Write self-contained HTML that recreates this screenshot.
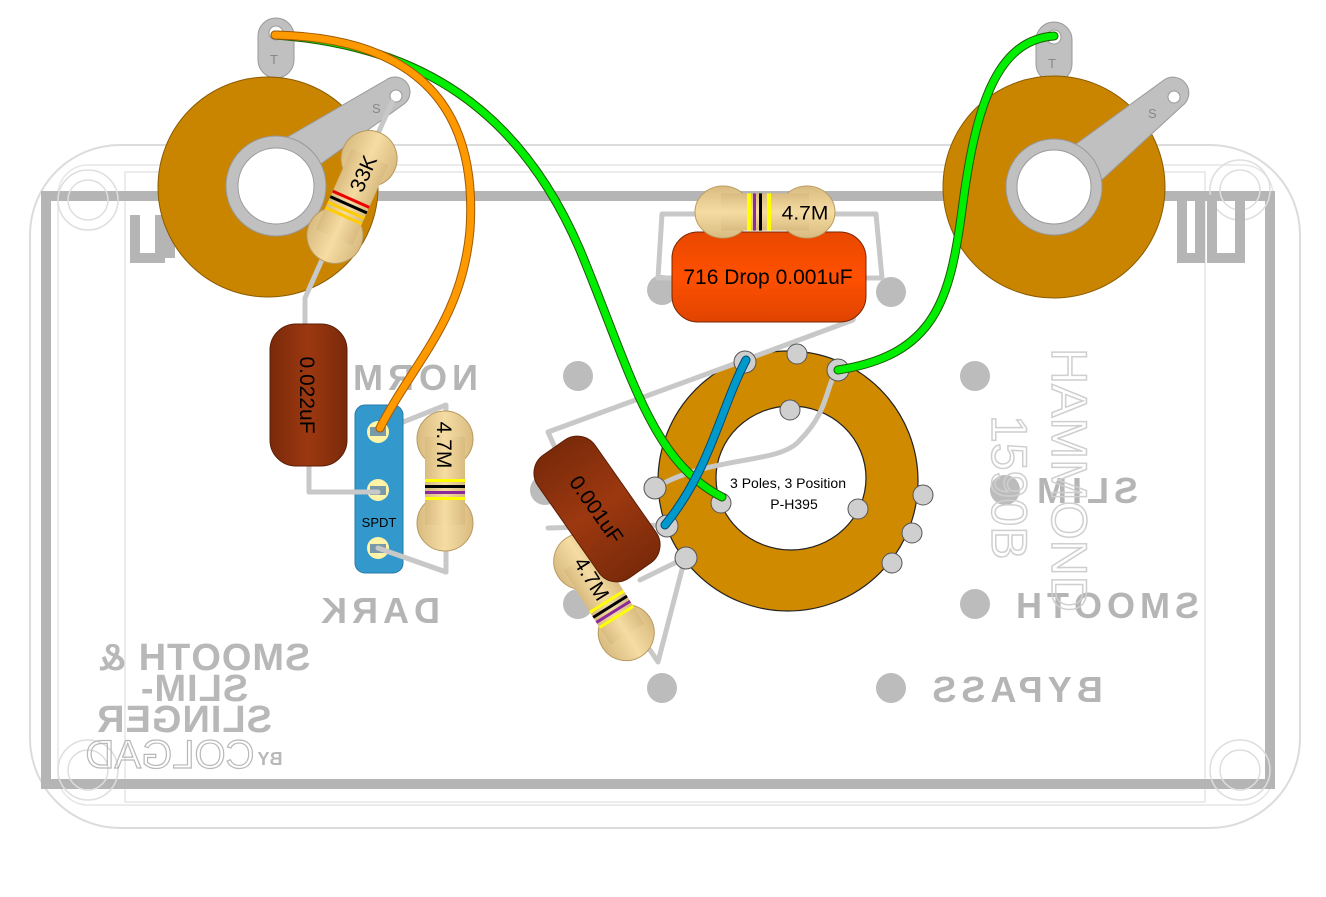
<!DOCTYPE html>
<html><head><meta charset="utf-8"><style>
html,body{margin:0;padding:0;background:#fff;}
svg{display:block;}
text{font-family:"Liberation Sans",sans-serif;}
</style></head><body>
<svg width="1326" height="897" viewBox="0 0 1326 897" xmlns="http://www.w3.org/2000/svg">
<defs>
<linearGradient id="tan" x1="0" y1="0" x2="0" y2="1">
<stop offset="0" stop-color="#d9bb80"/><stop offset="0.5" stop-color="#f5dca3"/><stop offset="1" stop-color="#d9bb80"/>
</linearGradient>
<linearGradient id="brn" x1="0" y1="0" x2="1" y2="0">
<stop offset="0" stop-color="#7a2a0a"/><stop offset="0.5" stop-color="#9c3810"/><stop offset="1" stop-color="#7a2a0a"/>
</linearGradient>
<linearGradient id="org" x1="0" y1="0" x2="0" y2="1">
<stop offset="0" stop-color="#e84800"/><stop offset="0.5" stop-color="#ff5000"/><stop offset="1" stop-color="#e04400"/>
</linearGradient>
<g id="resbody">
<circle cx="-42" cy="0" r="28" fill="url(#tan)" stroke="#b89a60" stroke-width="1"/>
<circle cx="42" cy="0" r="28" fill="url(#tan)" stroke="#b89a60" stroke-width="1"/>
<rect x="-44" y="-20" width="88" height="40" fill="url(#tan)"/>
</g>
</defs>

<!-- enclosure -->
<rect x="30" y="145" width="1270" height="683" rx="90" fill="none" stroke="#dcdcdc" stroke-width="2"/>
<rect x="58" y="165" width="1215" height="640" rx="30" fill="none" stroke="#e6e6e6" stroke-width="1.5"/>
<rect x="125" y="172" width="1080" height="630" fill="none" stroke="#e6e6e6" stroke-width="1.5"/>
<rect x="46" y="196" width="1224" height="588" fill="none" stroke="#b5b5b5" stroke-width="10"/>
<g fill="none" stroke="#dedede" stroke-width="1.5">
<circle cx="88" cy="200" r="30"/><circle cx="88" cy="200" r="20"/>
<circle cx="1240" cy="190" r="30"/><circle cx="1240" cy="190" r="20"/>
<circle cx="88" cy="770" r="30"/><circle cx="88" cy="770" r="20"/>
<circle cx="1240" cy="770" r="30"/><circle cx="1240" cy="770" r="20"/>
</g>
<!-- U shapes top -->
<path d="M135 215 V258 H160 V215 M170 215 V258" fill="none" stroke="#b5b5b5" stroke-width="10"/>
<path d="M1182 195 V258 H1200 V195 M1212 195 V258 H1240 V195" fill="none" stroke="#b5b5b5" stroke-width="10"/>

<!-- dots -->
<g fill="#bcbcbc">
<circle cx="662" cy="290" r="15"/><circle cx="891" cy="292" r="15"/>
<circle cx="578" cy="376" r="15"/><circle cx="975" cy="376" r="15"/>
<circle cx="545" cy="490" r="15"/><circle cx="1005" cy="490" r="15"/>
<circle cx="578" cy="604" r="15"/><circle cx="975" cy="604" r="15"/>
<circle cx="662" cy="688" r="15"/><circle cx="891" cy="688" r="15"/>
</g>

<!-- mirrored labels -->
<g fill="#b5b5b5" font-size="36" font-weight="bold" style="letter-spacing:5px">
<text transform="matrix(-1 0 0 1 826 0)" x="413" y="390" text-anchor="middle">NORM</text>
<text transform="matrix(-1 0 0 1 756 0)" x="378" y="623" text-anchor="middle">DARK</text>
<text transform="matrix(-1 0 0 1 2170 0)" x="1085" y="503" text-anchor="middle">SLIM</text>
<text transform="matrix(-1 0 0 1 2210 0)" x="1105" y="618" text-anchor="middle">SMOOTH</text>
<text transform="matrix(-1 0 0 1 2030 0)" x="1015" y="702" text-anchor="middle">BYPASS</text>
</g>
<g fill="none" stroke="#cfcfcf" stroke-width="1.5" font-size="50">
<text transform="translate(1052,348) rotate(90)" x="0" y="0">HAMMOND</text>
<text transform="translate(992,415) rotate(90)" x="0" y="0">1590B</text>
</g>
<g fill="#b8b8b8" font-family="Liberation Serif" font-weight="bold" font-size="38" style="letter-spacing:1px">
<text transform="matrix(-1 0 0 1 408 0)" x="204" y="670" text-anchor="middle">SMOOTH &amp;</text>
<text transform="matrix(-1 0 0 1 388 0)" x="194" y="701" text-anchor="middle">SLIM-</text>
<text transform="matrix(-1 0 0 1 368 0)" x="184" y="732" text-anchor="middle">SLINGER</text>
</g>
<g fill="none" stroke="#b8b8b8" stroke-width="1.2" font-family="Liberation Serif" font-size="40">
<text transform="matrix(-1 0 0 1 340 0)" x="170" y="768" text-anchor="middle">COLGAD</text>
</g>
<text transform="matrix(-1 0 0 1 540 0)" x="270" y="765" text-anchor="middle" fill="#b8b8b8" font-size="18" font-weight="bold">BY</text>

<!-- left jack -->
<rect x="258" y="18" width="36" height="60" rx="18" fill="#c0c0c0" stroke="#999" stroke-width="1"/>
<circle cx="276" cy="33" r="7" fill="#fff" stroke="#999"/>
<text x="270" y="64" font-size="13" fill="#888">T</text>
<circle cx="268" cy="187" r="110" fill="#c98400" stroke="#8a5c00" stroke-width="1"/>
<path d="M265 150 L386 80 A15 15 0 0 1 404 104 L290 186 Z" fill="#c0c0c0" stroke="#999"/>
<circle cx="396" cy="96" r="6" fill="#fff" stroke="#999"/>
<text x="372" y="113" font-size="13" fill="#888">S</text>
<circle cx="276" cy="186" r="50" fill="#c0c0c0" stroke="#999"/>
<circle cx="276" cy="186" r="38" fill="#fff" stroke="#999"/>

<!-- right jack -->
<rect x="1036" y="22" width="36" height="60" rx="18" fill="#c0c0c0" stroke="#999"/>
<circle cx="1054" cy="37" r="7" fill="#fff" stroke="#999"/>
<text x="1048" y="68" font-size="13" fill="#888">T</text>
<circle cx="1054" cy="187" r="111" fill="#c98400" stroke="#8a5c00" stroke-width="1"/>
<path d="M1054 160 L1164 80 A15 15 0 0 1 1182 106 L1080 200 Z" fill="#c0c0c0" stroke="#999"/>
<circle cx="1174" cy="97" r="6" fill="#fff" stroke="#999"/>
<text x="1148" y="118" font-size="13" fill="#888">S</text>
<circle cx="1054" cy="187" r="48" fill="#c0c0c0" stroke="#999"/>
<circle cx="1054" cy="187" r="37" fill="#fff" stroke="#999"/>

<!-- rotary switch -->
<circle cx="788" cy="481" r="130" fill="#d08a00" stroke="#222" stroke-width="1.2"/>
<ellipse cx="791" cy="478" rx="75" ry="72" fill="#fff" stroke="#222" stroke-width="1.2"/>
<text x="788" y="488" font-size="14" text-anchor="middle">3 Poles, 3 Position</text>
<text x="794" y="509" font-size="14" text-anchor="middle">P-H395</text>

<!-- gray leads -->
<g fill="none" stroke="#c8c8c8" stroke-width="5" stroke-linecap="round" stroke-linejoin="round">
<path d="M392 102 L305 298 V340"/>
<path d="M309 455 V492 H378"/>
<path d="M378 432 L446 405 V430"/>
<path d="M378 548 L446 572 V530"/>
<path d="M700 214 L662 214 L658 278 L676 278"/>
<path d="M830 214 L876 214 L882 278 L862 278 L853 320 L745 360"/>
<path d="M745 360 L548 432 L565 470"/>
<path d="M655 488 C710 455 780 465 800 440 C830 410 825 385 838 370"/>
<path d="M667 525 L548 528"/>
<path d="M640 580 L685 558 L658 662 L650 650"/>
</g>
<!-- switch lugs -->
<g fill="#cfcfcf" stroke="#555" stroke-width="1">
<circle cx="745" cy="362" r="11"/><circle cx="797" cy="354" r="10"/><circle cx="838" cy="370" r="11"/>
<circle cx="790" cy="410" r="10"/><circle cx="655" cy="488" r="11"/><circle cx="721" cy="503" r="10"/>
<circle cx="858" cy="509" r="10"/><circle cx="923" cy="495" r="10"/><circle cx="912" cy="533" r="10"/>
<circle cx="892" cy="563" r="10"/><circle cx="667" cy="526" r="11"/><circle cx="686" cy="558" r="11"/>
</g>

<!-- orange cap -->
<rect x="672" y="232" width="194" height="90" rx="26" fill="url(#org)" stroke="#7a2500" stroke-width="1"/>
<text x="768" y="284" font-size="21" text-anchor="middle">716 Drop 0.001uF</text>
<!-- top resistor -->
<g transform="translate(765,212) scale(1,0.93)">
<use href="#resbody"/>
<rect x="-18" y="-20" width="4" height="40" fill="#ff0"/>
<rect x="-12" y="-20" width="3" height="40" fill="#8b2a9a"/>
<rect x="-6" y="-20" width="3" height="40" fill="#000"/>
<rect x="2" y="-20" width="4" height="40" fill="#ff0"/>
<text x="40" y="8" font-size="21" text-anchor="middle">4.7M</text>
</g>

<!-- left cap -->
<rect x="270" y="324" width="77" height="142" rx="26" fill="url(#brn)" stroke="#5a1e05"/>
<text transform="translate(300,395) rotate(90)" font-size="21" text-anchor="middle">0.022uF</text>

<!-- SPDT -->
<rect x="355" y="405" width="48" height="168" rx="10" fill="#3399cc" stroke="#2a7aa8"/>
<g fill="#fff3a8"><circle cx="378" cy="432" r="11"/><circle cx="378" cy="490" r="11"/><circle cx="378" cy="548" r="11"/></g>
<g fill="#7799aa"><rect x="370" y="427" width="16" height="9"/><rect x="370" y="486" width="16" height="9"/><rect x="370" y="544" width="16" height="9"/></g>
<text x="379" y="527" font-size="13" text-anchor="middle">SPDT</text>
<path d="M309 492 H378 M378 548 L446 572" stroke="#c8c8c8" stroke-width="5" stroke-linecap="round" fill="none"/>

<!-- vertical 4.7M -->
<g transform="translate(445,481) rotate(90)">
<use href="#resbody"/>
<rect x="-2" y="-20" width="3" height="40" fill="#ff0"/>
<rect x="4" y="-20" width="3" height="40" fill="#000"/>
<rect x="10" y="-20" width="3" height="40" fill="#8b2a9a"/>
<rect x="16" y="-20" width="3" height="40" fill="#ff0"/>
<text x="-36" y="8" font-size="21" text-anchor="middle">4.7M</text>
</g>

<!-- 33K -->
<g transform="translate(352,197) rotate(-66)">
<use href="#resbody"/>
<rect x="-4" y="-20" width="3" height="40" fill="#e00"/>
<rect x="-10" y="-20" width="3" height="40" fill="#000"/>
<rect x="-16" y="-20" width="3" height="40" fill="#fc0"/>
<rect x="-22" y="-20" width="3" height="40" fill="#fc0"/>
<text x="26" y="8" font-size="21" text-anchor="middle">33K</text>
</g>

<!-- lower 4.7M -->
<g transform="translate(604,597) rotate(58)">
<use href="#resbody"/>
<rect x="4" y="-20" width="3" height="40" fill="#ff0"/>
<rect x="10" y="-20" width="3" height="40" fill="#000"/>
<rect x="16" y="-20" width="3" height="40" fill="#8b2a9a"/>
<rect x="22" y="-20" width="3" height="40" fill="#ff0"/>
<text x="-22" y="8" font-size="21" text-anchor="middle">4.7M</text>
</g>

<!-- 0.001uF brown cap -->
<g transform="translate(597,509) rotate(55)">
<rect x="-75" y="-35" width="150" height="70" rx="22" fill="url(#brn)" stroke="#5a1e05"/>
<text x="0" y="8" font-size="21" text-anchor="middle">0.001uF</text>
</g>

<!-- wires -->
<g fill="none" stroke-linecap="round">
<path d="M275 35 C420 45 520 110 580 250 C630 370 650 460 722 497" stroke="#1a5a00" stroke-width="9"/>
<path d="M275 35 C420 45 520 110 580 250 C630 370 650 460 722 497" stroke="#00ee00" stroke-width="7"/>
<path d="M838 370 C935 355 950 300 962 210 C975 110 995 40 1054 36" stroke="#1a5a00" stroke-width="9"/>
<path d="M838 370 C935 355 950 300 962 210 C975 110 995 40 1054 36" stroke="#00ee00" stroke-width="7"/>
<path d="M275 35 C420 38 478 110 470 230 C462 320 415 360 380 428" stroke="#a05a00" stroke-width="9"/>
<path d="M275 35 C420 38 478 110 470 230 C462 320 415 360 380 428" stroke="#ff9900" stroke-width="7"/>
<path d="M746 360 C720 410 710 470 665 525" stroke="#004a70" stroke-width="9"/>
<path d="M746 360 C720 410 710 470 665 525" stroke="#0099cc" stroke-width="7"/>
</g>
</svg>
</body></html>
